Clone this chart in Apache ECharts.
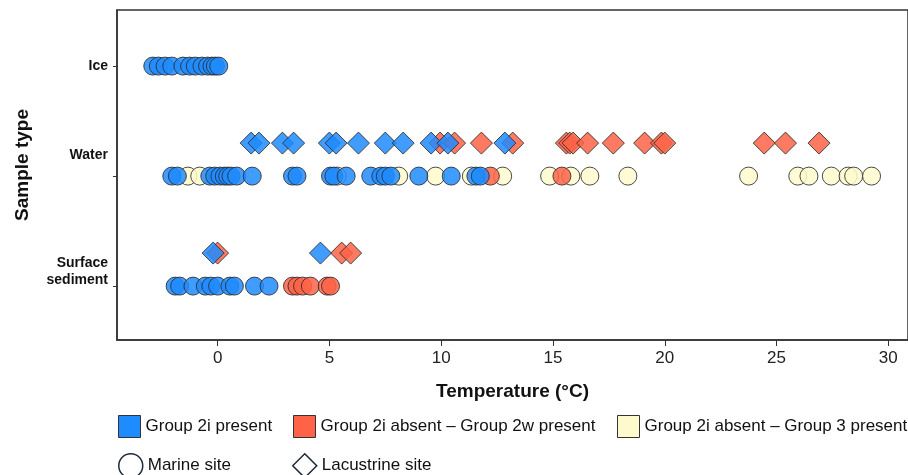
<!DOCTYPE html>
<html>
<head>
<meta charset="utf-8">
<script src="https://cdn.jsdelivr.net/npm/echarts@6/dist/echarts.min.js"></script>
<style>
  html, body { margin: 0; padding: 0; background: #fff; }
  #chart { width: 908px; height: 475px; }
</style>
</head>
<body>
<div id="chart"></div>
<script>
// temperatures (°C), one array per row / site / group
var iceMarine2i = [-2.9, -2.65, -2.35, -2.05, -1.55, -1.25, -1.0, -0.7, -0.45, -0.25, -0.1, 0.05];

var waterLake2i = [1.5, 1.85, 2.9, 3.4, 5.0, 5.3, 6.3, 7.5, 8.3, 9.55, 10.3, 12.85];
var waterLake2w = [9.95, 10.6, 11.8, 13.2, 15.6, 15.75, 15.9, 16.55, 17.7, 19.1, 19.85, 20.0, 24.45, 25.4, 26.9];
var waterMarine2i = [-2.05, -1.8, -0.35, -0.13, 0.1, 0.3, 0.45, 0.6, 0.85, 1.55, 3.35, 3.55, 5.05, 5.2,
  5.75, 6.85, 7.3, 7.5, 7.75, 9.0, 10.45, 11.55, 11.75];
var waterMarine2w = [12.2, 15.4];
var waterMarine3 = [-1.33, -0.8, 5.35, 8.1, 9.75, 11.35, 12.75, 14.85, 15.8, 16.65, 18.35, 23.75, 25.95,
  26.45, 27.45, 28.2, 28.45, 29.25];

var sedLake2i = [-0.2, 4.6];
var sedLake2w = [0.0, 5.55, 5.95];
var sedMarine2i = [-1.9, -1.7, -1.1, -0.55, -0.3, 0.0, 0.55, 0.75, 1.65, 2.3];
var sedMarine2w = [3.35, 3.55, 3.8, 4.15, 4.9, 5.05];

var groupNames = ['Group 2i present', 'Group 2i absent \u2013 Group 2w present', 'Group 2i absent \u2013 Group 3 present'];
var siteNames = ['Marine site', 'Lacustrine site'];
var rowLabels = ['Ice', 'Water', 'Surface\nsediment'];
var xTicks = [0, 5, 10, 15, 20, 25, 30];

// row centres on the y value axis (marine circles), lacustrine diamonds sit a bit above
var ROW = { ice: 2, water: 1, sed: 0 };
var LAKE_SHIFT = 0.3;
var rowTicks = [0, 1, 2];
var rowLabelPos = [2, 1.19, 0.13];

var colors = ['#1E8BFF', '#FF6347', '#FFFACD'];
var sans = '"Liberation Sans", Arial, sans-serif';

function marine(xs, y) {
  return xs.map(function (x) { return { value: [x, y], symbol: 'circle', symbolSize: 18 }; });
}
function lake(xs, y) {
  return xs.map(function (x) { return { value: [x, y + LAKE_SHIFT], symbol: 'diamond', symbolSize: 22 }; });
}

var myChart = echarts.init(document.getElementById('chart'));

function markerSeries(name, color, data) {
  return {
    name: name,
    type: 'scatter',
    data: data,
    itemStyle: { color: color, opacity: 0.85, borderColor: '#2b2b2b', borderWidth: 1 }
  };
}

function groupLegend(idx, left) {
  return {
    left: left, top: 415, padding: 0,
    itemWidth: 22, itemHeight: 22,
    selectedMode: false,
    textStyle: { fontFamily: sans, fontSize: 17, color: '#111' },
    data: [{ name: groupNames[idx], icon: 'rect', itemStyle: { color: colors[idx], opacity: 1, borderColor: '#333', borderWidth: 1 } }]
  };
}
function siteLegend(idx, left, icon) {
  return {
    left: left, top: 453, padding: 0,
    itemWidth: 24, itemHeight: 24,
    selectedMode: false,
    textStyle: { fontFamily: sans, fontSize: 17, color: '#111' },
    data: [{ name: siteNames[idx], icon: icon, itemStyle: { color: '#fff', opacity: 1, borderColor: '#1d2b3a', borderWidth: 1.5 } }]
  };
}

var option = {
  backgroundColor: '#fff',
  animation: false,
  grid: {
    left: 117, right: -5, top: 10, bottom: 135,
    show: true, borderColor: '#333', borderWidth: 1.5
  },
  legend: [
    groupLegend(0, 118),
    groupLegend(1, 293),
    groupLegend(2, 617),
    siteLegend(0, 118, 'circle'),
    siteLegend(1, 292, 'diamond')
  ],
  xAxis: {
    type: 'value',
    min: -4.5,
    max: 30.88,
    name: 'Temperature (\u00b0C)',
    nameLocation: 'middle',
    nameGap: 42,
    nameTextStyle: { fontFamily: sans, fontWeight: 'bold', fontSize: 19, color: '#111' },
    axisLine: { show: true, onZero: false, lineStyle: { color: '#333', width: 1.5 } },
    axisTick: { show: true, length: 6, customValues: xTicks, lineStyle: { color: '#333' } },
    axisLabel: { customValues: xTicks, margin: 10, fontFamily: sans, fontSize: 17, color: '#222' },
    splitLine: { show: false }
  },
  yAxis: {
    type: 'value',
    min: -0.49,
    max: 2.51,
    name: 'Sample type',
    nameLocation: 'middle',
    nameGap: 85,
    nameRotate: 90,
    nameTextStyle: { fontFamily: sans, fontWeight: 'bold', fontSize: 19, color: '#111', padding: [0, 0, 0, 20] },
    axisLine: { show: true, onZero: false, lineStyle: { color: '#333', width: 1.5 } },
    axisTick: { show: true, length: 4, customValues: rowTicks, lineStyle: { color: '#333' } },
    axisLabel: {
      customValues: rowLabelPos,
      margin: 9,
      fontFamily: sans,
      fontWeight: 'bold',
      fontSize: 14,
      lineHeight: 17,
      color: '#111',
      formatter: function (v) {
        var best = 0;
        rowLabelPos.forEach(function (p, i) {
          if (Math.abs(p - v) < Math.abs(rowLabelPos[best] - v)) best = i;
        });
        return rowLabels[best];
      }
    },
    splitLine: { show: false }
  },
  series: [
    markerSeries(groupNames[2], colors[2], marine(waterMarine3, ROW.water)),
    markerSeries(groupNames[1], colors[1],
      lake(waterLake2w, ROW.water)
        .concat(marine(waterMarine2w, ROW.water))
        .concat(lake(sedLake2w, ROW.sed))
        .concat(marine(sedMarine2w, ROW.sed))),
    markerSeries(groupNames[0], colors[0],
      marine(iceMarine2i, ROW.ice)
        .concat(lake(waterLake2i, ROW.water))
        .concat(marine(waterMarine2i, ROW.water))
        .concat(lake(sedLake2i, ROW.sed))
        .concat(marine(sedMarine2i, ROW.sed))),
    { name: siteNames[0], type: 'scatter', data: [] },
    { name: siteNames[1], type: 'scatter', data: [] }
  ]
};

myChart.setOption(option);
</script>
</body>
</html>
